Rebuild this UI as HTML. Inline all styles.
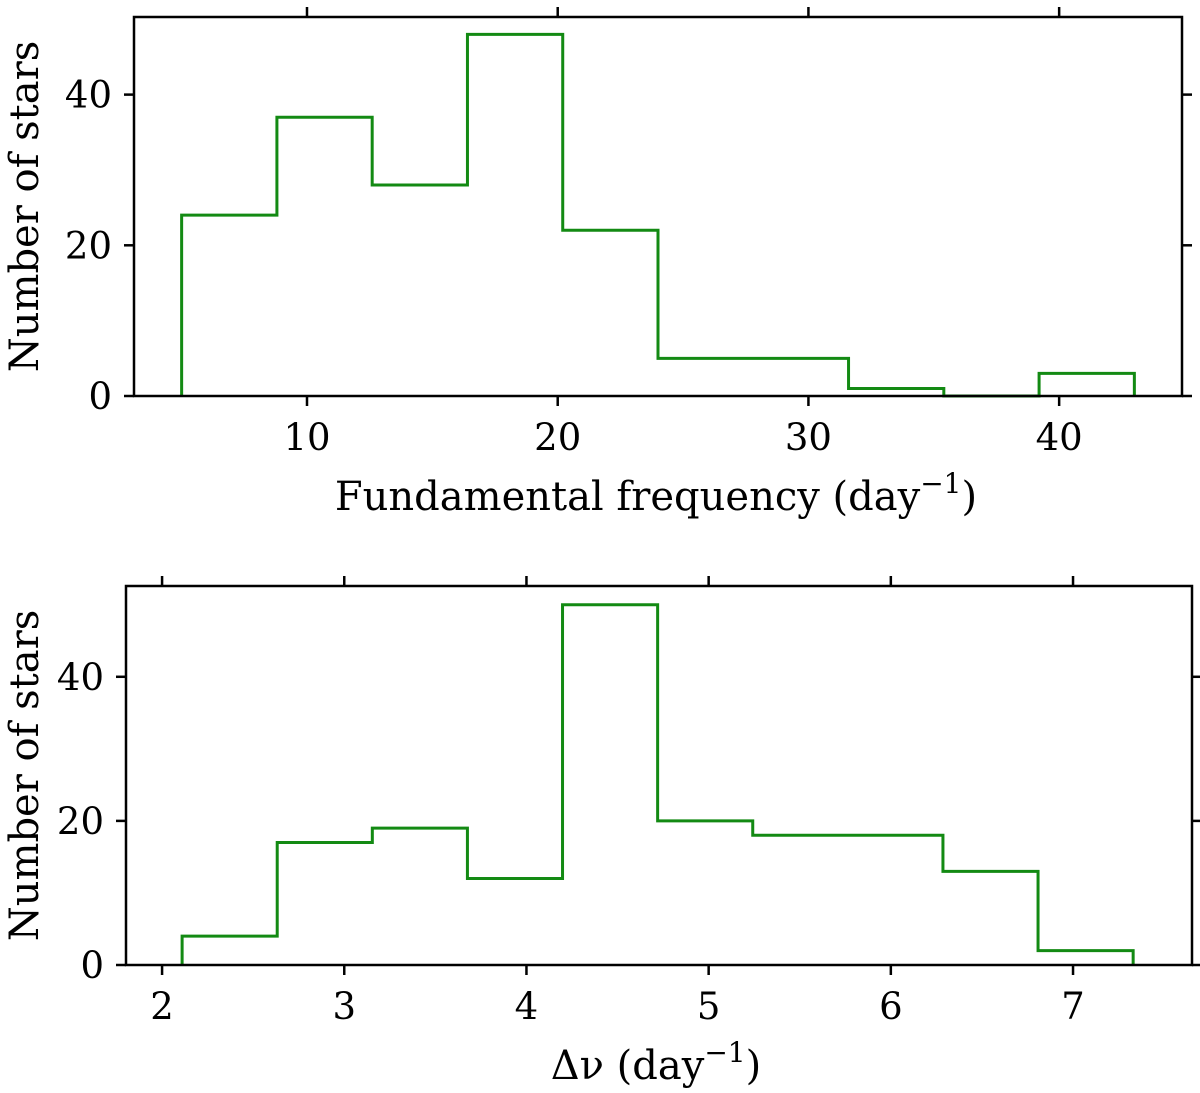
<!DOCTYPE html>
<html><head><meta charset="utf-8"><style>
html,body{margin:0;padding:0;background:#fff;}
svg{display:block;font-family:"DejaVu Serif","Liberation Serif",serif;}
</style></head><body>
<svg id="fig" width="1200" height="1093" viewBox="0 0 1200 1093" xmlns="http://www.w3.org/2000/svg"></svg>
<script>
// Top panel data
const topEdgeStart = 5.0;
const topBinWidth = 3.8;
const topCounts = [24, 37, 28, 48, 22, 5, 5, 1, 0, 3];
const topXTicks = [10, 20, 30, 40];
const topYTicks = [0, 20, 40];
// Bottom panel data
const botEdgeStart = 2.11;
const botBinWidth = 0.522;
const botCounts = [4, 17, 19, 12, 50, 20, 18, 18, 13, 2];
const botXTicks = [2, 3, 4, 5, 6, 7];
const botYTicks = [0, 20, 40];

const svg = document.getElementById('fig');
const NS = 'http://www.w3.org/2000/svg';
function mk(tag, attrs, parent){
  const e = document.createElementNS(NS, tag);
  for (const k in attrs) e.setAttribute(k, attrs[k]);
  (parent||svg).appendChild(e);
  return e;
}

function panel(cfg){
  const g = mk('g', {});
  
  
  const xs = v => cfg.L + (v - cfg.xmin) / (cfg.xmax - cfg.xmin) * (cfg.R - cfg.L);
  const ys = v => cfg.B - (v - cfg.ymin) / (cfg.ymax - cfg.ymin) * (cfg.B - cfg.T);
  let d = '';
  cfg.counts.forEach((c, i) => {
    const x0 = xs(cfg.start + i * cfg.width), x1 = xs(cfg.start + (i + 1) * cfg.width);
    if (i === 0) d += `M${x0},${ys(0)} L${x0},${ys(c)} `;
    else d += `L${x0},${ys(c)} `;
    d += `L${x1},${ys(c)} `;
  });
  const xe = xs(cfg.start + cfg.counts.length * cfg.width);
  d += `L${xe},${ys(0)}`;
  const p = mk('path', {d: d, fill: 'none', stroke: '#138a13', 'stroke-width': 3}, g);
  
  
  const r = mk('rect', {x: cfg.L, y: cfg.T, width: cfg.R - cfg.L, height: cfg.B - cfg.T, fill: 'none', stroke: '#000', 'stroke-width': 2.5}, g);
  
  
  cfg.xticks.forEach(t => {
    const x = xs(t);
    mk('line', {x1: x, x2: x, y1: cfg.B, y2: cfg.B + 10, stroke: '#000', 'stroke-width': 2.5}, g);
    mk('line', {x1: x, x2: x, y1: cfg.T, y2: cfg.T - 10, stroke: '#000', 'stroke-width': 2.5}, g);
    const tx = mk('text', {x: x, y: cfg.B + 54, 'font-size': 37, 'text-anchor': 'middle'}, g);
    
    
    tx.textContent = t;
  });
  cfg.yticks.forEach(t => {
    const y = ys(t);
    mk('line', {x1: cfg.L, x2: cfg.L - 10, y1: y, y2: y, stroke: '#000', 'stroke-width': 2.5}, g);
    mk('line', {x1: cfg.R, x2: cfg.R + 10, y1: y, y2: y, stroke: '#000', 'stroke-width': 2.5}, g);
    const ty = mk('text', {x: cfg.L - 22, y: y + 13, 'font-size': 37, 'text-anchor': 'end'}, g);
    
    
    ty.textContent = t;
  });
  const yl = mk('text', {x: 0, y: 0, 'font-size': 40, 'text-anchor': 'middle', transform: `translate(38,${(cfg.T + cfg.B) / 2}) rotate(-90)`}, g);
  
  
  yl.textContent = 'Number of stars';
  const xl = mk('text', {x: (cfg.L + cfg.R) / 2 + cfg.xlOff, y: cfg.B + 114, 'font-size': 40, 'text-anchor': 'middle'}, g);
  
  
  xl.innerHTML = cfg.xlabel + ' (day<tspan dy="-17" font-size="28">\u22121</tspan><tspan dy="17">)</tspan>';
}

panel({name: 'fundamental-frequency-panel', L: 134, R: 1182, T: 17, B: 396,
  xmin: 3.10, xmax: 44.90, ymin: 0, ymax: 50.3,
  start: topEdgeStart, width: topBinWidth, counts: topCounts,
  xticks: topXTicks, yticks: topYTicks, xlabel: 'Fundamental frequency', xlOff: -2});
panel({name: 'delta-nu-panel', L: 126, R: 1192, T: 586, B: 965,
  xmin: 1.802, xmax: 7.653, ymin: 0, ymax: 52.6,
  start: botEdgeStart, width: botBinWidth, counts: botCounts,
  xticks: botXTicks, yticks: botYTicks, xlabel: '\u0394\u03bd', xlOff: -3});
</script>
</body></html>
